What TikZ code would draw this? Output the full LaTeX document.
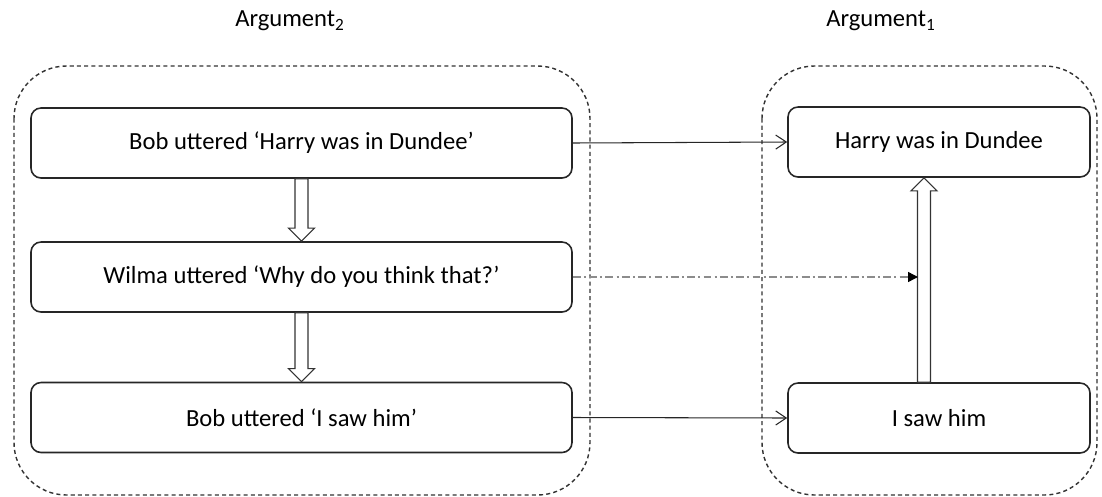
\documentclass[tikz,border=0pt]{standalone}
\usepackage{fontspec}
\setmainfont{Carlito}
\usetikzlibrary{arrows.meta,calc}

\begin{document}
\begin{tikzpicture}[font=\fontsize{14}{17}\selectfont]
    \tikzstyle{claim}=[
        draw = black!85,
        line width = 0.9pt,
        fill = white,
        rounded corners = 2mm,
        minimum height = 14mm,
        rectangle
    ]
    \tikzstyle{argument}=[
        draw = black!80,
        line width = 0.8pt,
        dash pattern = on 2.3pt off 1.8pt,
        rounded corners = 10.5mm
    ]
    \tikzstyle{move}=[
        draw = black!85,
        line width = 0.6pt,
        -{Straight Barb[length=6pt, width=8pt]}
    ]
    \tikzstyle{query}=[
        draw = black!45,
        line width = 0.8pt,
        dash pattern = on 4.5pt off 1.8pt on 1.2pt off 1.8pt,
        -{Triangle[length=5.6pt, width=5.6pt, color=black]}
    ]
    \tikzstyle{hollow}=[
        draw = black!80,
        fill = white,
        line width = 0.6pt,
        to path = {
            ($(\tikztostart)!1.3mm!90:(\tikztotarget)$)
            -- ($(\tikztotarget)!2.6mm!(\tikztostart)!1.3mm!90:(\tikztotarget)$)
            -- ($(\tikztotarget)!2.6mm!(\tikztostart)!2.6mm!90:(\tikztotarget)$)
            -- (\tikztotarget)
            -- ($(\tikztotarget)!2.6mm!(\tikztostart)!2.6mm!-90:(\tikztotarget)$)
            -- ($(\tikztotarget)!2.6mm!(\tikztostart)!1.3mm!-90:(\tikztotarget)$)
            -- ($(\tikztostart)!1.3mm!-90:(\tikztotarget)$)
            -- cycle
        }
    ]

    \useasboundingbox (0, 0) rectangle (22.04, -9.92);

    % the two arguments
    \draw[argument] (0.28, -1.32) rectangle (11.8, -9.9);
    \draw[argument] (15.24, -1.32) rectangle (21.94, -9.9);
    \node (arg2) at (5.8, -0.42)   {Argument\textsubscript{2}};
    \node (arg1) at (17.62, -0.42) {Argument\textsubscript{1}};

    \node[claim, minimum width = 10.82cm] (b1) at (6.03, -2.86) {Bob uttered `Harry was in Dundee'};
    \node[claim, minimum width = 10.82cm] (b2) at (6.03, -5.54) {Wilma uttered `Why do you think that?'};
    \node[claim, minimum width = 10.82cm] (b3) at (6.03, -8.35) {Bob uttered `I saw him'};
    \node[claim, minimum width = 6.04cm]  (b4) at (18.78, -2.84) {Harry was in Dundee};
    \node[claim, minimum width = 6.04cm]  (b5) at (18.78, -8.36) {I saw him};

    \coordinate (rise) at (18.48, 0);
    \coordinate (hit)  at (18.36, 0);

    \path (b1.south) edge[hollow] (b2.north);
    \path (b2.south) edge[hollow] (b3.north);
    \path (b5.north -| rise) edge[hollow] (b4.south -| rise);

    \path (b1.east) edge[move] (b4.west);
    \path (b3.east) edge[move] (b5.west);
    \path (b2.east) edge[query] (b2.east -| hit);

\end{tikzpicture}
\end{document}
